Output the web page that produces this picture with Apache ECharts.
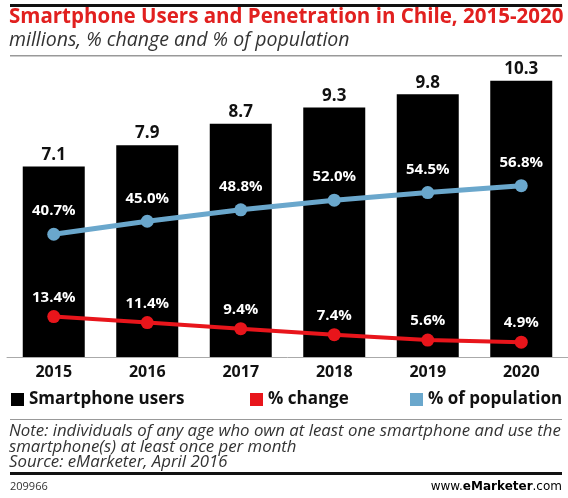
<!DOCTYPE html>
<html>
<head>
<meta charset="utf-8">
<script src="https://cdn.jsdelivr.net/npm/echarts@6/dist/echarts.min.js"></script>
<style>
html,body{margin:0;padding:0;background:#fff;}
#chart{width:568px;height:498px;}
</style>
</head>
<body>
<div id="chart"></div>
<script>
const years = ['2015','2016','2017','2018','2019','2020'];
const smartphoneUsers = [7.1, 7.9, 8.7, 9.3, 9.8, 10.3];
const pctChange = [13.4, 11.4, 9.4, 7.4, 5.6, 4.9];
const pctPopulation = [40.7, 45.0, 48.8, 52.0, 54.5, 56.8];
const seriesNames = ['Smartphone users', '% change', '% of population'];

const FONT = '"Open Sans", "DejaVu Sans", sans-serif';
const chart = echarts.init(document.getElementById('chart'), null, {renderer: 'canvas'});

function legendFor(name, left, color) {
  return {
    data: [{name: name, itemStyle: {color: color}}],
    left: left, top: 391, padding: 0,
    icon: 'rect', itemWidth: 13, itemHeight: 13, itemGap: 4,
    selectedMode: false,
    textStyle: {fontFamily: FONT, fontWeight: 'bold', fontSize: 17, color: '#111'}
  };
}

const option = {
  backgroundColor: '#fff',
  animation: false,
  grid: {left: 7, right: 0, top: 62, bottom: 141},
  legend: [
    legendFor(seriesNames[0], 11, '#000'),
    legendFor(seriesNames[1], 250, '#e8151b'),
    legendFor(seriesNames[2], 410, '#6aa7cc')
  ],
  xAxis: {
    type: 'category', data: years,
    axisLine: {show: true, lineStyle: {color: '#aaa', width: 1}},
    axisTick: {show: false},
    axisLabel: {fontFamily: FONT, fontWeight: 'bold', fontSize: 16, color: '#111', margin: 7}
  },
  yAxis: [
    {type: 'value', min: 0, max: 11, show: false},
    {type: 'value', min: 0, max: 97.8, show: false}
  ],
  series: [
    {
      name: seriesNames[0], type: 'bar', data: smartphoneUsers, barWidth: 62,
      itemStyle: {color: '#000'},
      label: {show: true, position: 'top', distance: 3, fontFamily: FONT, fontWeight: 'bold', fontSize: 17, color: '#111',
        formatter: p => p.value.toFixed(1)}
    },
    {
      name: seriesNames[2], type: 'line', yAxisIndex: 1, data: pctPopulation,
      lineStyle: {color: '#6aa7cc', width: 5}, itemStyle: {color: '#6aa7cc'},
      symbol: 'circle', symbolSize: 13,
      label: {show: true, position: 'top', distance: 9, fontFamily: FONT, fontWeight: 'bold', fontSize: 15, color: '#fff',
        formatter: p => p.value.toFixed(1) + '%'}
    },
    {
      name: seriesNames[1], type: 'line', yAxisIndex: 1, data: pctChange,
      lineStyle: {color: '#e8151b', width: 4}, itemStyle: {color: '#e8151b'},
      symbol: 'circle', symbolSize: 13,
      label: {show: true, position: 'top', distance: 5, fontFamily: FONT, fontWeight: 'bold', fontSize: 15, color: '#fff',
        formatter: p => p.value.toFixed(1) + '%'}
    }
  ],
  graphic: [
    {type: 'rect', shape: {x: 10, y: 4, width: 552, height: 3}, style: {fill: '#111'}},
    {type: 'text', left: 9, top: 7, style: {text: 'Smartphone Users and Penetration in Chile, 2015-2020', fontFamily: FONT, fontWeight: 'bold', fontSize: 20.5, fill: '#e1201f'}},
    {type: 'text', left: 9, top: 30, style: {text: 'millions, % change and % of population', fontFamily: FONT, fontStyle: 'italic', fontSize: 19.5, fill: '#333'}},
    {type: 'rect', shape: {x: 10, y: 55, width: 552, height: 1.5}, style: {fill: '#999'}},
    {type: 'rect', shape: {x: 10, y: 419, width: 552, height: 1}, style: {fill: '#999'}},
    {type: 'text', left: 9, top: 423, style: {text: 'Note: individuals of any age who own at least one smartphone and use the\nsmartphone(s) at least once per month\nSource: eMarketer, April 2016', fontFamily: FONT, fontStyle: 'italic', fontSize: 16.8, lineHeight: 15.5, fill: '#333'}},
    {type: 'rect', shape: {x: 10, y: 472, width: 552, height: 3}, style: {fill: '#111'}},
    {type: 'text', left: 10, top: 481, style: {text: '209966', fontFamily: FONT, fontSize: 11, fill: '#333'}},
    {type: 'text', right: 6, top: 481, style: {
      text: '{a|www.}{b|e}{c|Marketer}{a|.com}',
      rich: {
        a: {fontFamily: '"DejaVu Sans", sans-serif', fontSize: 12, color: '#333'},
        b: {fontFamily: '"DejaVu Sans", sans-serif', fontSize: 12, fontWeight: 'bold', color: '#e1201f'},
        c: {fontFamily: '"DejaVu Sans", sans-serif', fontSize: 12, fontWeight: 'bold', color: '#222'}
      }}}
  ]
};
chart.setOption(option);
</script>
</body>
</html>
